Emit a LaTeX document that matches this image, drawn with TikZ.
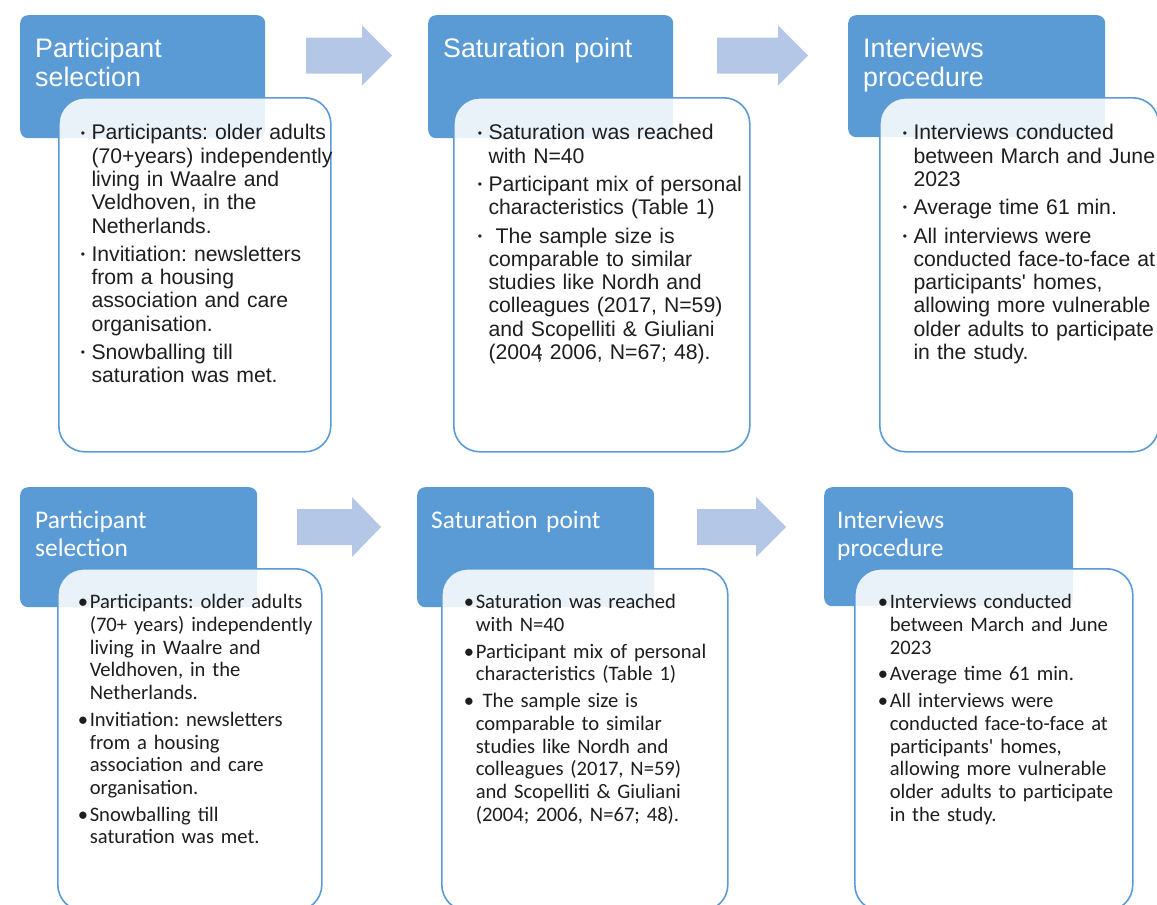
\documentclass[tikz,border=0pt]{standalone}
\usepackage{fontspec}
\setmainfont{Liberation Sans}
\newfontfamily\calibrifont{Carlito}
\usetikzlibrary{positioning}
\definecolor{StepBlue}{HTML}{5B9BD5}
\definecolor{StepArrow}{HTML}{B4C7E7}
\definecolor{StepInk}{HTML}{1E1E1E}
\newcommand{\topheadfont}{\fontsize{26.8pt}{29pt}\selectfont}
\newcommand{\topbodyfont}{\fontsize{21.2pt}{23.3pt}\selectfont\frenchspacing}
\newcommand{\lowheadfont}{\calibrifont\fontsize{25.4pt}{28pt}\selectfont}
\newcommand{\lowbodyfont}{\calibrifont\fontsize{20.6pt}{22.7pt}\selectfont\frenchspacing}
% bullet paragraphs, hanging indent
\newcommand{\topitem}[1]{\noindent
  \makebox[10.7pt][l]{\raisebox{2.8pt}{\fontsize{12pt}{12pt}\selectfont\textbullet}}#1%
  \hangindent=10.7pt\hangafter=1\rightskip=-90pt plus 1fil\par
  \setlength{\parskip}{5pt}}
\newcommand{\lowitem}[1]{\noindent\makebox[12pt][l]{\textbullet}#1%
  \hangindent=12pt\hangafter=1\rightskip=-90pt plus 1fil\par
  \setlength{\parskip}{4pt}}

\begin{document}
\begin{tikzpicture}[x=1pt, y=-1pt]
  \tikzset{
    headfill/.style={fill=StepBlue, rounded corners=8pt, anchor=north west,
                     inner ysep=0pt, inner xsep=15pt, align=left, text=white},
    bodybox/.style={draw=StepBlue, line width=1.6pt, fill=white, fill opacity=0.87,
                    text opacity=1, rounded corners=26pt, anchor=north west,
                    inner ysep=0pt, align=left, text=StepInk},
    flowarrow/.style={fill=StepArrow},
  }
  \useasboundingbox (0,0) rectangle (1157,905);
  \clip (0,0) rectangle (1157,905);

  % first row
  \node[headfill, font=\topheadfont, text width=215pt, text height=42pt, text depth=81pt]
        (h1) at (20,15) {Participant\\selection};
  \node[headfill, font=\topheadfont, text width=215pt, text height=42pt, text depth=81pt]
        (h2) at (428,15) {Saturation point};
  \node[headfill, font=\topheadfont, text width=227pt, text height=42pt, text depth=80pt]
        (h3) at (848,15) {Interviews\\procedure};

  \node[bodybox, font=\topbodyfont, inner xsep=22pt, text width=228pt,
        text height=42pt, text depth=312pt] (b1) at (58,97) {%
    \topitem{Participants: older adults\newline (70+years) independently\newline
      living in Waalre and\newline Veldhoven, in the\newline Netherlands.}
    \topitem{Invitiation: newsletters\newline from a housing\newline
      association and care\newline organisation.}
    \topitem{Snowballing till\newline saturation was met.}};
  \node[bodybox, font=\topbodyfont, inner xsep=24pt, text width=248pt,
        text height=42pt, text depth=312pt] (b2) at (453,97) {%
    \topitem{Saturation was reached\newline with N=40}
    \topitem{Participant mix of personal\newline characteristics (Table 1)}
    \topitem{\ The sample size is\newline comparable to similar\newline
      studies like Nordh and\newline colleagues (2017, N=59)\newline
      and Scopelliti \& Giuliani\newline (2004\llap{;} 2006, N=67; 48).}};
  \node[bodybox, font=\topbodyfont, inner xsep=23pt, text width=233pt,
        text height=42pt, text depth=312pt] (b3) at (879,97) {%
    \topitem{Interviews conducted\newline between March and June\newline 2023}
    \topitem{Average time 61 min.}
    \topitem{All interviews were\newline conducted face-to-face at\newline
      participants\textquotesingle\ homes,\newline allowing more vulnerable\newline
      older adults to participate\newline in the study.}};

  % second row
  \node[headfill, font=\lowheadfont, text width=207pt, text height=41pt, text depth=79pt]
        (h4) at (20,487) {Participant\\selection};
  \node[headfill, font=\lowheadfont, inner xsep=14pt, text width=209pt, text height=41pt,
        text depth=79pt] (h5) at (417,487) {Saturation point};
  \node[headfill, font=\lowheadfont, inner xsep=13pt, text width=223pt, text height=41pt,
        text depth=78pt] (h6) at (824,487) {Interviews\\procedure};

  \node[bodybox, font=\lowbodyfont, inner xsep=20pt, text width=224pt,
        text height=40pt, text depth=302pt] (b4) at (57,568) {%
    \lowitem{Participants: older adults\newline (70+ years) independently\newline
      living in Waalre and\newline Veldhoven, in the\newline Netherlands.}
    \lowitem{Invitiation: newsletters\newline from a housing\newline
      association and care\newline organisation.}
    \lowitem{Snowballing till\newline saturation was met.}};
  \node[bodybox, font=\lowbodyfont, inner xsep=22pt, text width=242pt,
        text height=40pt, text depth=302pt] (b5) at (441,568) {%
    \lowitem{Saturation was reached\newline with N=40}
    \lowitem{Participant mix of personal\newline characteristics (Table 1)}
    \lowitem{\ The sample size is\newline comparable to similar\newline
      studies like Nordh and\newline colleagues (2017, N=59)\newline
      and Scopelliti \& Giuliani\newline (2004; 2006, N=67; 48).}};
  \node[bodybox, font=\lowbodyfont, inner xsep=23pt, text width=232pt,
        text height=40pt, text depth=302pt] (b6) at (854,568) {%
    \lowitem{Interviews conducted\newline between March and June\newline 2023}
    \lowitem{Average time 61 min.}
    \lowitem{All interviews were\newline conducted face-to-face at\newline
      participants\textquotesingle\ homes,\newline allowing more vulnerable\newline
      older adults to participate\newline in the study.}};

  % block arrows between the steps
  \foreach \xa/\xb/\xc/\ym in {306/362/392/55.5, 717/778/808/55.5,
                               297/352/381/527, 697/756/786/527}
    \fill[flowarrow] (\xa,\ym-18) -- (\xb,\ym-18) -- (\xb,\ym-30) -- (\xc,\ym)
      -- (\xb,\ym+30) -- (\xb,\ym+18) -- (\xa,\ym+18) -- cycle;

\end{tikzpicture}
\end{document}
